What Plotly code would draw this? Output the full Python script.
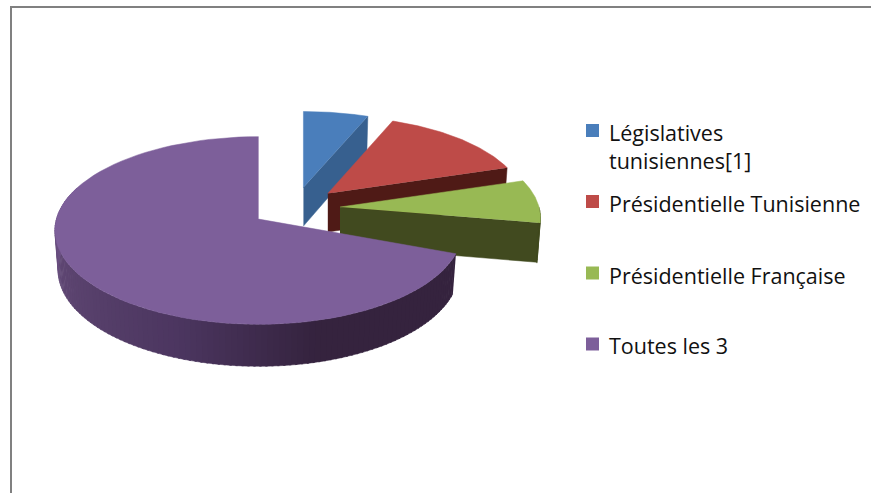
"""
Exploded 3D-look pie, drawn as filled polygons because plotly pies are flat
"""
import numpy as np
import plotly.graph_objects as go

categories = ['Législatives<br>tunisiennes[1]', 'Présidentielle Tunisienne',
              'Présidentielle Française', 'Toutes les 3']
values = [6, 14, 10, 70]

top_colors = ['#4a7ebb', '#be4b48', '#98b954', '#7d5f9a']
side_colors = ['#37608f', '#4f1a16', '#414a1f', '#35243f']
rim_stops = [(108, '#35233e'), (165, '#35233e'), (200, '#4c3660'), (250, '#5f4773'), (290, '#7a5c95')]

# pie geometry, in page pixels
CX, CY = 295, 207
RADIUS = 199
TILT = 0.45
PERSP = 0.0006
EXPLODE = 45
DEPTH = 39
# the original's perspective bends the cut edges, so nudge them (degrees)
start_trim = [0, 0, 0, 3]
end_trim = [0, 0, 8, 0]


def project(th, r, ax, az, h=0.0):
    """th in degrees clockwise from 12 o'clock, (ax, az) the slice's offset"""
    dx = r * np.sin(np.radians(th))
    Z = az + r * np.cos(np.radians(th))
    s = 1 / (1 + PERSP * Z)
    # the bottom face sits a bit further away, so it is a little narrower
    return CX + ax + s * (1 - h * 0.0004) * dx, CY - s * TILT * Z + h * np.sqrt(s)


def rim_color(th):
    ths = [t for t, _ in rim_stops]
    rgb = [[int(c[i:i + 2], 16) for i in (1, 3, 5)] for _, c in rim_stops]
    parts = [np.interp(th, ths, [c[k] for c in rgb]) for k in range(3)]
    return 'rgb(%d,%d,%d)' % tuple(parts)


def add_poly(fig, x, y, color):
    fig.add_trace(go.Scatter(x=list(x), y=list(y), mode='lines', fill='toself', fillcolor=color,
                             line=dict(color=color, width=0.5), hoverinfo='skip', showlegend=False))


fig = go.Figure()

edges = np.cumsum([0] + values) * 3.6
for i in range(len(values)):
    mid = np.radians((edges[i] + edges[i + 1]) / 2)
    a, b = edges[i] + start_trim[i], edges[i + 1] - end_trim[i]
    ax, az = EXPLODE * np.sin(mid), EXPLODE * np.cos(mid)

    # cut face on the clockwise end of the slice
    if b < 180:
        x0, y0 = project(b, 0, ax, az)
        x1, y1 = project(b, RADIUS, ax, az)
        x2, y2 = project(b, RADIUS, ax, az, DEPTH)
        x3, y3 = project(b, 0, ax, az, DEPTH)
        add_poly(fig, [x0, x1, x2, x3], [y0, y1, y2, y3], side_colors[i])

    # outer wall, only the part facing the viewer
    lo, hi = max(a, 90), min(b, 290)
    if hi > lo:
        steps = np.linspace(lo, hi, max(2, int((hi - lo) / 1.5)))
        for t0, t1 in zip(steps[:-1], steps[1:]):
            ts = np.linspace(t0, t1 + 0.5, 4)
            xt, yt = project(ts, RADIUS, ax, az)
            xb, yb = project(ts[::-1], RADIUS, ax, az, DEPTH)
            color = rim_color((t0 + t1) / 2) if i == 3 else side_colors[i]
            add_poly(fig, np.r_[xt, xb], np.r_[yt, yb], color)

    # top face
    ts = np.linspace(a, b, 80)
    xt, yt = project(ts, RADIUS, ax, az)
    x0, y0 = project(a, 0, ax, az)
    add_poly(fig, np.r_[x0, xt], np.r_[y0, yt], top_colors[i])

# frame of the chart area
fig.add_shape(type='line', x0=11, x1=11, y0=7, y1=493, line=dict(color='#808080', width=2))
fig.add_shape(type='line', x0=10, x1=871, y0=7, y1=7, line=dict(color='#808080', width=2))

# legend, the spacing is uneven in the original so it is placed by hand
legend_y = [130.5, 201.5, 273, 344]
text_y = [146.5, 203.5, 275.5, 345.5]
for name, color, ly, ty in zip(categories, top_colors, legend_y, text_y):
    fig.add_trace(go.Scatter(x=[592.5], y=[ly], mode='markers', hoverinfo='skip', showlegend=False,
                             marker=dict(symbol='square', size=13, color=color)))
    fig.add_annotation(x=607, y=ty, text=name, showarrow=False, xanchor='left', yanchor='middle',
                       align='left', font=dict(family='Open Sans', size=21.5, color='#111111'))

fig.update_xaxes(range=[0, 871], visible=False, fixedrange=True)
fig.update_yaxes(range=[493, 0], visible=False, fixedrange=True)
fig.update_layout(width=871, height=493, margin=dict(l=0, r=0, t=0, b=0),
                  paper_bgcolor='white', plot_bgcolor='white', showlegend=False)
fig.write_html("out.html", config=dict(displayModeBar=False),
               post_script="document.body.style.margin='0';")
